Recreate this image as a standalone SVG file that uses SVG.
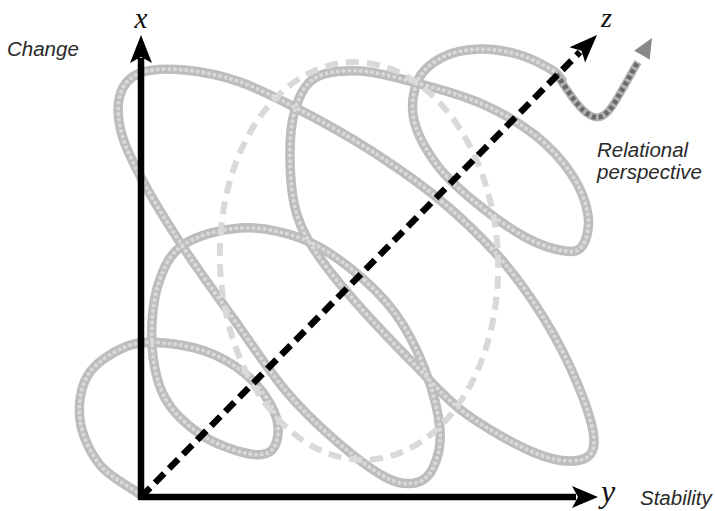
<svg xmlns="http://www.w3.org/2000/svg" width="715" height="511" viewBox="0 0 715 511">
<style>
.lbl{font-family:"Liberation Sans",Arial,sans-serif;font-style:italic;font-size:20.5px;fill:#2a2a2a}
.ax{font-family:"Liberation Serif","Times New Roman",serif;font-style:italic;fill:#111}
.coilA{fill:none;stroke:#bdbdbd;stroke-width:9.5;stroke-linecap:round;stroke-linejoin:round}
.coilB{fill:none;stroke:#d9d9d9;stroke-width:4;stroke-linecap:round;stroke-dasharray:0.1 5.6}
.axis{stroke:#000;stroke-width:6.5;fill:none}
</style>
<defs>
<path id="coilPath" d="M141,495 C127.3,485 110.2,477.5 100,465 S82,435 80,420 S80.5,387.2 88,375 S112.2,352.3 125,347 S150,341.7 165,343 S200,348.3 215,355 S244.7,372.2 255,383 S274.2,408.8 277,420 S277.3,444.5 272,450 S257,455.7 245,453 S213.3,443.2 200,434 S173,412.8 165,398 S153.2,363.8 152,345 S152.8,301.7 158,285 S169.3,254.5 183,245 S220.5,229.2 240,228 S281.7,231.3 300,238 S334.2,255.5 350,268 S382.5,296 395,313 S417.5,350.5 425,370 S438.7,413.7 440,430 S437.2,459.2 433,468 S423,481.5 415,483 S398.3,484.2 385,477 S351.7,454.5 335,440 S302,410.3 285,390 S249.7,341.3 233,318 S199.7,272.2 185,250 S155.5,204.2 145,185 S126.2,150 122,135 S117,105.3 120,95 S129.2,77.2 140,73 S168.3,68.5 185,70 S220.8,75.3 240,82 S278.3,98.7 300,110 S346.7,135 370,150 S418.3,182 440,200 S482.5,238 500,258 S532,298.8 545,320 S569.8,365 578,385 S593.7,427.5 594,440 S589.8,457.8 580,460 S554.2,460.8 535,453 S485,427.7 465,413 S432.5,382.7 415,365 S375.8,324.8 360,307 S330.5,273.3 320,258 S302,231.3 297,215 S290.3,177.5 290,160 S290.8,123.7 295,110 S304.2,84.5 315,78 S343.7,70.3 360,71 S393,76.7 413,82 S459.7,94.2 480,103 S519.7,123 535,135 S563.2,161.7 572,175 S586.2,203.3 588,215 S586.8,239 583,245 S574.7,252.3 565,251 S540,245.2 525,237 S489.7,214 475,202 S447.2,178.7 437,165 S417.2,134.2 414,120 S413.2,90.5 418,80 S432.7,62.2 443,57 S467.2,49.3 480,49 S508,51.5 520,55 S545,65.8 552,70 S558.7,76.7 562,80"/>
<path id="wave" d="M556,74 C568,90 580,113 594,117 C606,120 614,104 622,90 C628,80 633,70 638,62"/>
</defs>
<rect width="715" height="511" fill="#fff"/>
<g id="coil">
<use href="#coilPath" class="coilA"/>
<use href="#coilPath" class="coilB"/>
</g>
<g id="relational">
<use href="#wave" fill="none" stroke="#b0b0b0" stroke-width="8"/>
<use href="#wave" fill="none" stroke="#6a6a6a" stroke-width="5" stroke-dasharray="4 3"/>
<polygon points="652,38 649.7,59.8 642,55 634.1,50.8" fill="#888"/>
</g>
<g id="dashed-ellipse">
<ellipse cx="359" cy="261" rx="139" ry="199" transform="rotate(-2.5 359 261)" fill="none" stroke="#d9d9d9" stroke-width="6" stroke-dasharray="13 8"/>
</g>
<g id="connectors">
<g id="x-axis">
<line x1="141" y1="500" x2="141" y2="58" class="axis"/>
<polygon points="141,35 152,63 141,57 130,63" fill="#000"/>
</g>
<g id="y-axis">
<line x1="138" y1="497" x2="576" y2="497" class="axis"/>
<polygon points="598,497 572,486 578,497 572,508" fill="#000"/>
</g>
<g id="z-axis">
<line x1="141" y1="497" x2="580" y2="52" class="axis" stroke-dasharray="13 7"/>
<polygon points="597,35 585.1,62.6 581.5,50.7 569.5,47.2" fill="#000"/>
</g>
</g>
<g id="labels">
<text class="ax" x="141" y="28" font-size="29" text-anchor="middle">x</text>
<text class="ax" x="601" y="27" font-size="28">z</text>
<text class="ax" x="601" y="502" font-size="32">y</text>
<text class="lbl" x="7" y="56">Change</text>
<text class="lbl" x="640" y="505">Stability</text>
<text class="lbl" x="597" y="157">Relational</text>
<text class="lbl" x="597" y="179">perspective</text>
</g>
</svg>
